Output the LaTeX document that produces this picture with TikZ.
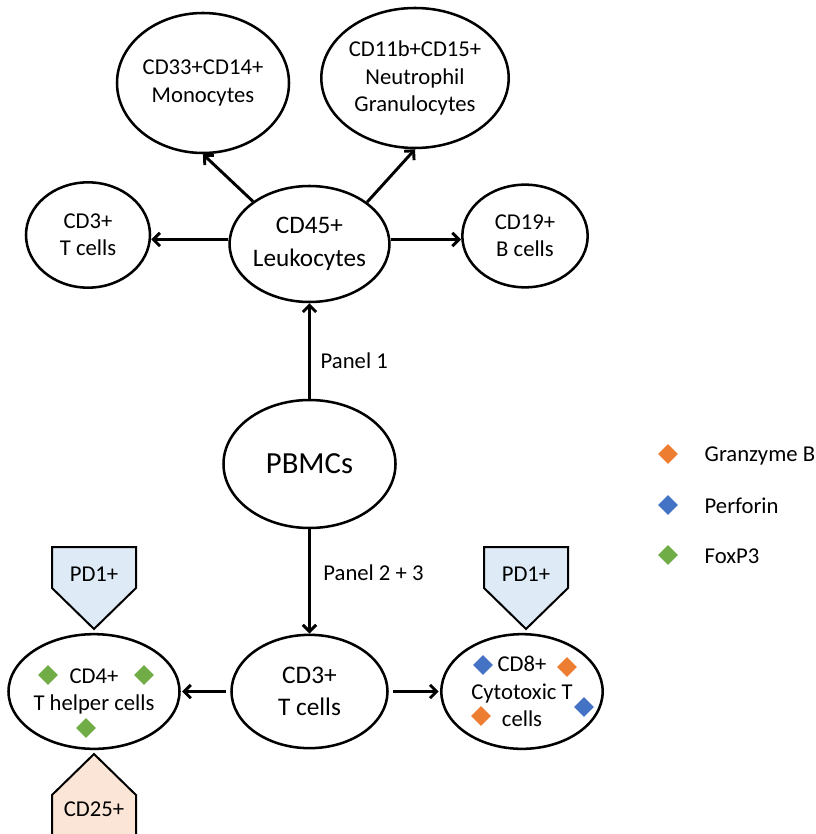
\documentclass[tikz,border=0pt]{standalone}
\usepackage{fontspec}
\setmainfont{Carlito}
\usetikzlibrary{positioning, arrows.meta, shapes.geometric}

\definecolor{pdblue}{HTML}{DEEBF7}
\definecolor{cdpeach}{HTML}{FBE5D6}
\definecolor{gzorange}{HTML}{ED7D31}
\definecolor{pfblue}{HTML}{4472C4}
\definecolor{fxgreen}{HTML}{70AD47}

\begin{document}
\begin{tikzpicture}[x=0.75pt, y=-0.75pt,
    cell/.style={ellipse, draw, line width=1.9pt, inner sep=0pt, align=center,
        font=\fontsize{17}{20.5}\selectfont},
    link/.style={line width=2.2pt, -{Straight Barb[length=5pt,width=10pt]}},
    txt/.style={font=\fontsize{17}{20.5}\selectfont},
    tagline/.style={line width=1.5pt, line join=miter}]

        \useasboundingbox (0,0) rectangle (816,834);
        \clip (0,0) rectangle (816,834);

        % PANEL 1
        \node[cell, minimum width=116pt, minimum height=87pt,
              font=\fontsize{18.9}{24.5}\selectfont] (cd45) at (309.5,244) {CD45+\\Leukocytes};
        \node[cell, minimum width=129pt, minimum height=105pt] (mono) at (203,83) {CD33+CD14+\\Monocytes};
        \node[cell, minimum width=127.5pt, minimum height=105pt] (neut) at (415,78) {CD11b+CD15+\\Neutrophil\\Granulocytes};
        \node[cell, minimum width=93pt, minimum height=79pt] (tcell) at (88,235) {CD3+\\T cells};
        \node[cell, minimum width=94pt, minimum height=77pt] (bcell) at (525,236) {CD19+\\B cells};

        \draw[link] (cd45.143) -- (mono.south);
        \draw[link] (cd45.36) -- (neut.south);
        \draw[link] ([yshift=3.4pt]cd45.west) -- ([yshift=3.4pt]tcell.east |- cd45.west);
        \draw[link] ([yshift=3.4pt]cd45.east) -- ([yshift=3.4pt]bcell.west |- cd45.east);

        % PBMCs
        \node[cell, minimum width=129pt, minimum height=96pt,
              font=\fontsize{23}{27}\selectfont] (pbmc) at (309.5,464) {PBMCs};
        \draw[link] (pbmc.north) -- node[txt, right=4pt, pos=0.4] {Panel 1} (cd45.south);

        % PANEL 2 + 3
        \node[cell, minimum width=117pt, minimum height=85pt,
              font=\fontsize{19}{23.5}\selectfont] (tcb) at (309.5,691.5) {CD3+\\T cells};
        \node[cell, minimum width=123pt, minimum height=86pt] (cd4) at (94,691.5) {CD4+\\T helper cells};
        \node[cell, minimum width=121pt, minimum height=86pt] (cd8) at (522,691.5) {CD8+\\Cytotoxic T\\cells};

        \draw[link] (pbmc.south) -- node[txt, right=6pt, pos=0.42] {Panel 2 + 3} (tcb.north);
        \draw[link, shorten <=3pt, shorten >=1pt] (tcb.west) -- (cd4.east);
        \draw[link, shorten <=3pt, shorten >=1pt] (tcb.east) -- (cd8.west);

        % MARKER TAGS
        \draw[tagline, fill=pdblue] (52,547) -- (136,547) -- (136,588) -- (94,629) -- (52,588) -- cycle;
        \node[txt] (pdl) at (94,574) {PD1+};
        \draw[tagline, fill=pdblue] (484,547) -- (568,547) -- (568,588) -- (526,629) -- (484,588) -- cycle;
        \node[txt] (pdr) at (526,574) {PD1+};
        \draw[tagline, fill=cdpeach] (52,860) -- (52,795) -- (94,754) -- (136,795) -- (136,860);
        \node[txt] (cd25) at (94,809) {CD25+};

        % INTRACELLULAR MARKERS
        \tikzset{gem/.style={diamond, inner sep=0pt, minimum width=15pt, minimum height=15pt}}
        \node[gem, fill=fxgreen] (fx1) at (48,675) {};
        \node[gem, fill=fxgreen] (fx2) at (144,675) {};
        \node[gem, fill=fxgreen] (fx3) at (86,728) {};
        \node[gem, fill=pfblue] (pf1) at (483,665) {};
        \node[gem, fill=gzorange] (gz1) at (567,667) {};
        \node[gem, fill=gzorange] (gz2) at (481,716) {};
        \node[gem, fill=pfblue] (pf2) at (584,707) {};

        % LEGEND
        \node[gem, fill=gzorange] (lgz) at (668,454) {};
        \node[gem, fill=pfblue] (lpf) at (668,505) {};
        \node[gem, fill=fxgreen] (lfx) at (668,555) {};
        \node[txt, anchor=west] at (700,456) {Granzyme B};
        \node[txt, anchor=west] at (700,506) {Perforin};
        \node[txt, anchor=west] at (700,556) {FoxP3};

    \end{tikzpicture}
\end{document}
